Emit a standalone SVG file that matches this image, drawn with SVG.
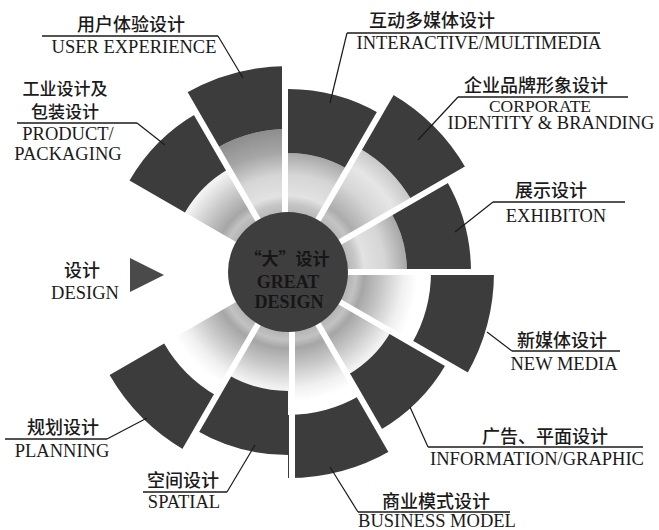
<svg xmlns="http://www.w3.org/2000/svg" width="659" height="530" viewBox="0 0 659 530">
<defs>
<radialGradient id="gUp" gradientUnits="userSpaceOnUse" cx="288" cy="272" r="206">
<stop offset="0.29" stop-color="#b8b8b8"/><stop offset="0.33" stop-color="#c6c6c6"/><stop offset="0.37" stop-color="#e2e2e2"/><stop offset="0.47" stop-color="#d6d6d6"/><stop offset="0.58" stop-color="#a6a6a6"/><stop offset="0.70" stop-color="#8c8c8c"/>
</radialGradient>
<radialGradient id="gMid" gradientUnits="userSpaceOnUse" cx="288" cy="272" r="206">
<stop offset="0.29" stop-color="#b8b8b8"/><stop offset="0.33" stop-color="#c4c4c4"/><stop offset="0.37" stop-color="#acacac"/><stop offset="0.50" stop-color="#d6d6d6"/><stop offset="0.60" stop-color="#e6e6e6"/><stop offset="0.70" stop-color="#c6c6c6"/>
</radialGradient>
<radialGradient id="gDown" gradientUnits="userSpaceOnUse" cx="288" cy="272" r="206">
<stop offset="0.29" stop-color="#b4b4b4"/><stop offset="0.33" stop-color="#c2c2c2"/><stop offset="0.37" stop-color="#a6a6a6"/><stop offset="0.46" stop-color="#c8c8c8"/><stop offset="0.56" stop-color="#f0f0f0"/><stop offset="0.63" stop-color="#ffffff"/>
</radialGradient>
</defs>
<style>
.band{fill:#3c3c3c}
.gap{stroke:#ffffff;stroke-width:6}
.lead{stroke:#1a1a1a;stroke-width:1.2;fill:none}
.rule{stroke:#1a1a1a;stroke-width:1.3}
.zh{font-family:"Noto Sans CJK SC",sans-serif;font-size:18px;font-weight:500;fill:#1a1a1a;text-anchor:middle}
.zs{font-size:17px}
.en{font-family:"Liberation Serif",serif;font-size:18.5px;fill:#1a1a1a;text-anchor:middle}
.es{font-size:17.5px}
.ctr{font-family:"Liberation Serif",serif;font-size:18px;font-weight:bold;fill:#161616;text-anchor:middle}
.ctrzh{font-family:"Noto Sans CJK SC",sans-serif;font-size:17px;font-weight:bold;fill:#161616;text-anchor:middle}
</style>
<rect width="659" height="530" fill="#ffffff"/>

<g id="wheel">
<g id="product">
<path d="M288,272 L184.95,212.5 A119,119 0 0 1 228.5,168.95 Z" fill="url(#gDown)"/>
<path class="band" d="M129.52,180.5 A183,183 0 0 1 196.5,113.52 L228.5,168.95 A119,119 0 0 0 184.95,212.5 Z"/>
</g>
<g id="user">
<path d="M288,272 L216.5,148.16 A143,143 0 0 1 288,129 Z" fill="url(#gUp)"/>
<path class="band" d="M185,93.6 A206,206 0 0 1 288,66 L288,129 A143,143 0 0 0 216.5,148.16 Z"/>
</g>
<g id="interactive">
<path d="M288,272 L288,153 A119,119 0 0 1 347.5,168.95 Z" fill="url(#gUp)"/>
<path class="band" d="M288,89 A183,183 0 0 1 379.5,113.52 L347.5,168.95 A119,119 0 0 0 288,153 Z"/>
</g>
<g id="corporate">
<path d="M288,272 L359.5,148.16 A143,143 0 0 1 411.84,200.5 Z" fill="url(#gMid)"/>
<path class="band" d="M391,93.6 A206,206 0 0 1 466.4,169 L411.84,200.5 A143,143 0 0 0 359.5,148.16 Z"/>
</g>
<g id="exhibiton">
<path d="M288,272 L391.05,212.5 A119,119 0 0 1 407,272 Z" fill="url(#gUp)"/>
<path class="band" d="M446.48,180.5 A183,183 0 0 1 471,272 L407,272 A119,119 0 0 0 391.05,212.5 Z"/>
</g>
<g id="newmedia">
<path d="M288,272 L431,272 A143,143 0 0 1 411.84,343.5 Z" fill="url(#gDown)"/>
<path class="band" d="M494,272 A206,206 0 0 1 466.4,375 L411.84,343.5 A143,143 0 0 0 431,272 Z"/>
</g>
<g id="information">
<path d="M288,272 L391.05,331.5 A119,119 0 0 1 347.5,375.05 Z" fill="url(#gDown)"/>
<path class="band" d="M446.48,363.5 A183,183 0 0 1 379.5,430.48 L347.5,375.05 A119,119 0 0 0 391.05,331.5 Z"/>
</g>
<g id="business">
<path d="M288,272 L359.5,395.84 A143,143 0 0 1 288,415 Z" fill="url(#gDown)"/>
<path class="band" d="M391,450.4 A206,206 0 0 1 288,478 L288,415 A143,143 0 0 0 359.5,395.84 Z"/>
</g>
<g id="spatial">
<path d="M288,272 L288,391 A119,119 0 0 1 228.5,375.05 Z" fill="url(#gDown)"/>
<path class="band" d="M288,455 A183,183 0 0 1 196.5,430.48 L228.5,375.05 A119,119 0 0 0 288,391 Z"/>
</g>
<g id="planning">
<path d="M288,272 L216.5,395.84 A143,143 0 0 1 164.16,343.5 Z" fill="url(#gDown)"/>
<path class="band" d="M185,450.4 A206,206 0 0 1 109.6,375 L164.16,343.5 A143,143 0 0 0 216.5,395.84 Z"/>
</g>
<g id="gaps">
<line class="gap" x1="288" y1="272" x2="180.5" y2="85.8"/>
<line class="gap" x1="285" y1="272" x2="285" y2="58"/>
<line class="gap" x1="288" y1="272" x2="395.5" y2="85.8"/>
<line class="gap" x1="288" y1="272" x2="474.2" y2="164.5"/>
<line class="gap" x1="288" y1="272" x2="505" y2="272"/>
<line class="gap" x1="288" y1="272" x2="474.2" y2="379.5"/>
<line class="gap" x1="288" y1="272" x2="395.5" y2="458.2"/>
<line class="gap" x1="292" y1="272" x2="292" y2="486"/>
<line class="gap" x1="288" y1="272" x2="180.5" y2="458.2"/>
</g>
</g>

<g id="center">
<circle cx="288" cy="272" r="60" fill="#3e3e3e"/>
<text class="ctrzh" x="287" y="265">“大”设计</text>
<text class="ctr" x="288" y="288">GREAT</text>
<text class="ctr" x="289" y="308">DESIGN</text>
</g>

<g id="design">
<polygon points="130,258 164,275 130,292" fill="#4a4a4a"/>
<text class="zh" x="82" y="277">设计</text>
<text class="en" x="85" y="299">DESIGN</text>
</g>

<g id="connectors">
<line class="rule" x1="42" y1="36" x2="218" y2="36"/>
<polyline class="lead" points="218,36 243,78"/>
<line class="rule" x1="17" y1="123" x2="137" y2="123"/>
<polyline class="lead" points="137,123 165,145"/>
<line class="rule" x1="347" y1="33" x2="600" y2="33"/>
<polyline class="lead" points="347,33 330,103"/>
<line class="rule" x1="458" y1="97" x2="628" y2="97"/>
<polyline class="lead" points="458,97 418,140"/>
<line class="rule" x1="493" y1="202" x2="625" y2="202"/>
<polyline class="lead" points="493,202 455,232"/>
<line class="rule" x1="512" y1="351" x2="620" y2="351"/>
<polyline class="lead" points="512,351 487,332"/>
<line class="rule" x1="428" y1="447" x2="643" y2="447"/>
<polyline class="lead" points="428,447 410,407"/>
<line class="rule" x1="358" y1="512" x2="510" y2="512"/>
<polyline class="lead" points="358,512 330,467"/>
<line class="rule" x1="5" y1="439" x2="107" y2="439"/>
<polyline class="lead" points="107,439 147,418"/>
<line class="rule" x1="143" y1="492" x2="227" y2="492"/>
<polyline class="lead" points="227,492 255,445"/>
</g>

<g id="label-user">
<text class="zh" x="131" y="31">用户体验设计</text>
<text class="en" x="134" y="53">USER EXPERIENCE</text>
</g>
<g id="label-product">
<text class="zh zs" x="65" y="95">工业设计及</text>
<text class="zh zs" x="65" y="118">包装设计</text>
<text class="en" x="68" y="140">PRODUCT/</text>
<text class="en" x="68" y="160">PACKAGING</text>
</g>
<g id="label-interactive">
<text class="zh" x="432" y="27">互动多媒体设计</text>
<text class="en" x="479" y="49">INTERACTIVE/MULTIMEDIA</text>
</g>
<g id="label-corporate">
<text class="zh" x="536" y="92">企业品牌形象设计</text>
<text class="en es" x="540" y="112">CORPORATE</text>
<text class="en" x="551" y="129">IDENTITY &amp; BRANDING</text>
</g>
<g id="label-exhibiton">
<text class="zh" x="551" y="197">展示设计</text>
<text class="en" x="556" y="222">EXHIBITON</text>
</g>
<g id="label-newmedia">
<text class="zh" x="562" y="347">新媒体设计</text>
<text class="en" x="564" y="370">NEW MEDIA</text>
</g>
<g id="label-information">
<text class="zh" x="545" y="443">广告、平面设计</text>
<text class="en" x="537" y="465">INFORMATION/GRAPHIC</text>
</g>
<g id="label-business">
<text class="zh" x="436" y="508">商业模式设计</text>
<text class="en" x="437" y="527">BUSINESS MODEL</text>
</g>
<g id="label-planning">
<text class="zh" x="63" y="434">规划设计</text>
<text class="en" x="62" y="457">PLANNING</text>
</g>
<g id="label-spatial">
<text class="zh" x="183" y="487">空间设计</text>
<text class="en" x="184" y="508">SPATIAL</text>
</g>
</svg>
